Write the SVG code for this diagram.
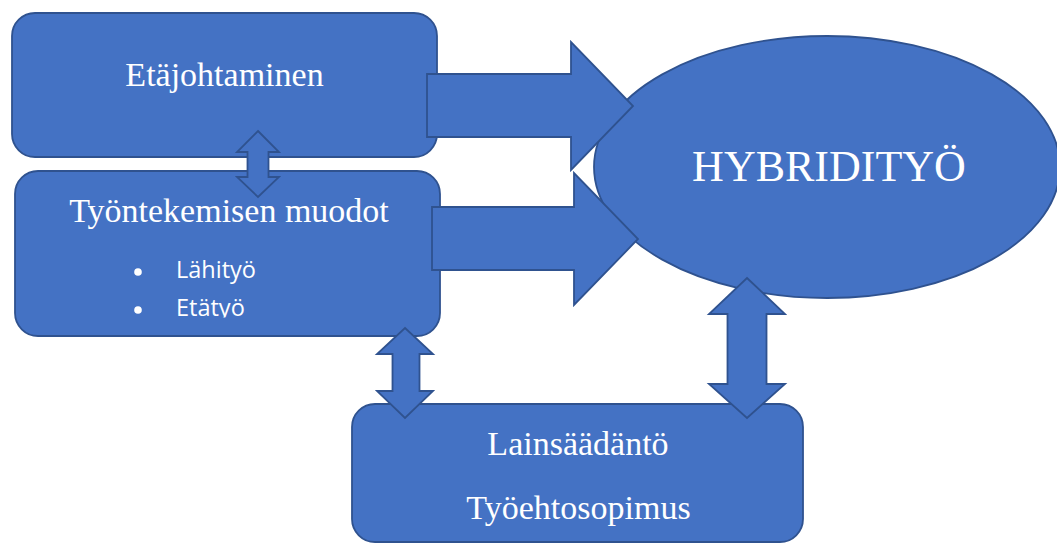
<svg xmlns="http://www.w3.org/2000/svg" width="1057" height="544" viewBox="0 0 1057 544">
  <style>
    .shape { fill: #4472C4; stroke: #2F528F; stroke-width: 1.8; stroke-linejoin: miter; }
    .t { font-family: "Liberation Serif", "Times New Roman", serif; fill: #FFFFFF; text-anchor: middle; }
    .b { font-family: "Open Sans", "Liberation Sans", sans-serif; fill: #FFFFFF; font-size: 23.5px; }
  </style>
  <defs>
    <clipPath id="clipBullets">
      <rect x="15" y="240" width="425" height="77.5"/>
    </clipPath>
  </defs>
  <rect width="1057" height="544" fill="#FFFFFF"/>

  <g id="node-etajohtaminen">
    <rect class="shape" x="12" y="13" width="425" height="144" rx="23" ry="23"/>
    <text class="t" x="224.5" y="86" font-size="34">Etäjohtaminen</text>
  </g>

  <g id="node-tyontekemisen-muodot">
    <rect class="shape" x="15" y="171" width="425" height="165" rx="23" ry="23"/>
    <text class="t" x="229" y="222" font-size="34">Työntekemisen muodot</text>
    <g clip-path="url(#clipBullets)">
      <circle cx="138" cy="272" r="3.8" fill="#FFFFFF"/>
      <text class="b" x="176" y="278">Lähityö</text>
      <circle cx="138" cy="310" r="3.8" fill="#FFFFFF"/>
      <text class="b" x="176" y="316">Etätyö</text>
    </g>
  </g>

  <g id="node-lainsaadanto">
    <rect class="shape" x="352" y="404" width="451" height="138" rx="23" ry="23"/>
    <text class="t" x="578" y="455" font-size="34">Lainsäädäntö</text>
    <text class="t" x="578.5" y="519" font-size="34">Työehtosopimus</text>
  </g>

  <g id="node-hybridityo">
    <ellipse class="shape" cx="827" cy="167" rx="233" ry="131"/>
    <text class="t" x="829" y="181" font-size="44">HYBRIDITYÖ</text>
  </g>

  <g id="connectors">
    <polygon class="shape" points="427,74 571,74 571,42 633,106 571,170 571,137 427,137"/>
    <polygon class="shape" points="432,207 574,207 574,173 638,239 574,305 574,270 432,270"/>
    <polygon class="shape" points="258,131 279,152 268.5,152 268.5,177 279,177 258,197 237,177 247.5,177 247.5,152 237,152"/>
    <polygon class="shape" points="405,328 433,354 419.5,354 419.5,391 433,391 405,418 377,391 392.5,391 392.5,354 377,354"/>
    <polygon class="shape" points="747,278 785,314 766.5,314 766.5,384 785,384 747,418 709,384 727.5,384 727.5,314 709,314"/>
  </g>
</svg>
